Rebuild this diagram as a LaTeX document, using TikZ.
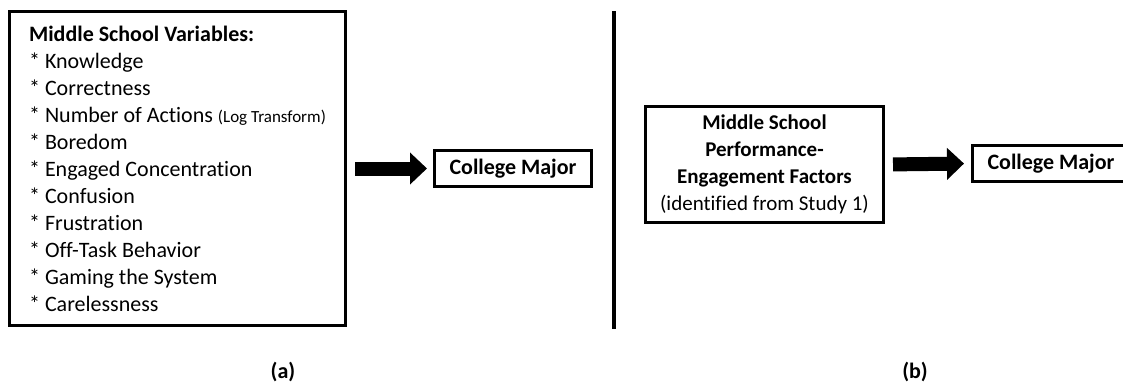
\documentclass[tikz,border=0pt]{standalone}
\usepackage{fontspec}
\setmainfont{Carlito}[Ligatures={NoCommon}]
\usepackage{tikz}
\usetikzlibrary{shapes,arrows,positioning,calc,arrows.meta}

\begin{document}
\begin{tikzpicture}[x=1pt, y=-1pt,
        box/.style={draw, line width=3pt, inner sep=0pt},
        major/.style={box, minimum width=157pt, minimum height=36pt, font=\fontsize{22}{27}\selectfont\bfseries},
        fat/.style={line width=14pt, -{Triangle[length=17pt,width=31pt]}},
        tag/.style={font=\fontsize{22}{27}\selectfont\bfseries}]
        \useasboundingbox (0,0) rectangle (1123,386);

        % (a) Separate variables
        \node[box, minimum width=336pt, minimum height=314pt, align=left,
              font=\fontsize{22}{27}\selectfont] (vars) at (177.5,168.5) {%
            \textbf{Middle School Variables:}\\
            {*} Knowledge\\
            {*} Correctness\\
            {*} Number of Actions {\fontsize{17}{27}\selectfont (Log Transform)}\\
            {*} Boredom\\
            {*} Engaged Concentration\\
            {*} Confusion\\
            {*} Frustration\\
            {*} Off-Task Behavior\\
            {*} Gaming the System\\
            {*} Carelessness};
        \node[major] (majorA) at (513,168.5) {College Major};
        \draw[fat, shorten <=8pt, shorten >=6pt] (vars.east) -- (majorA.west);
        \node[tag] (capA) at (283,372) {(a)};

        % Divider
        \draw[line width=4pt] (614,11) -- (614,329);

        % (b) Factors
        \node[box, minimum width=238pt, minimum height=116pt, align=center,
              font=\fontsize{21}{27}\selectfont] (factors) at (764.5,164.5) {%
            \textbf{Middle School}\\
            \textbf{Performance-}\\
            \textbf{Engagement Factors}\\
            (identified from Study 1)};
        \node[major] (majorB) at (1051,163.5) {College Major};
        \draw[fat, shorten <=8pt, shorten >=7pt] (factors.east) -- (majorB.west);
        \node[tag] (capB) at (915,372) {(b)};
    \end{tikzpicture}
\end{document}
